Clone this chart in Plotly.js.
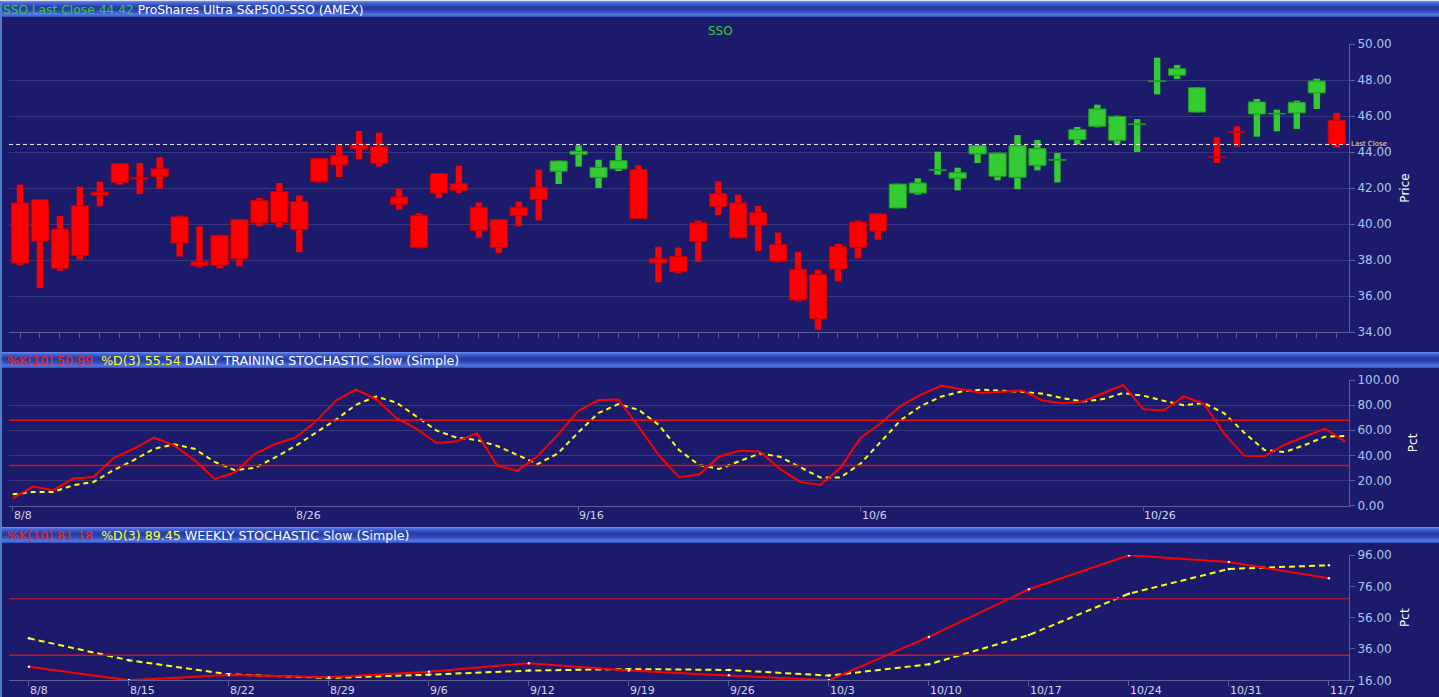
<!DOCTYPE html>
<html>
<head>
<meta charset="utf-8">
<script src="https://cdn.plot.ly/plotly-3.0.1.min.js"></script>
<style>
html,body{margin:0;padding:0;background:#1b1a6b;overflow:hidden}
#chart{width:1439px;height:697px}
</style>
</head>
<body>
<div id="chart"></div>
<script>
// ---------------- DATA ----------------
const symbol = 'SSO';
const lastClose = 44.42;

// Daily OHLC bars (67 trading sessions)
const open = [41.17, 41.35, 39.72, 41.02, 41.78, 43.35, 42.57, 43.06, 40.39, 37.91,
  39.37, 40.24, 41.31, 41.81, 41.24, 43.63, 43.80, 44.41, 44.30, 41.50,
  40.48, 42.80, 42.24, 40.93, 40.24, 40.93, 42.04, 42.93, 43.87, 42.59,
  43.06, 43.02, 38.07, 38.19, 40.06, 41.69, 41.17, 40.63, 38.85, 37.48,
  37.20, 38.74, 40.11, 40.56, 40.89, 41.72, 42.98, 42.54, 43.89, 42.65,
  42.59, 43.26, 43.54, 44.69, 45.43, 44.65, 45.52, 47.91, 48.26, 46.22,
  43.74, 45.13, 46.11, 46.11, 46.17, 47.28, 45.76];
const high = [42.19, 41.35, 40.44, 42.07, 42.35, 43.39, 43.39, 43.72, 40.46, 39.87,
  39.40, 40.26, 41.44, 42.28, 41.59, 43.67, 44.41, 45.17, 45.07, 41.96,
  40.59, 42.83, 43.24, 41.20, 40.26, 41.24, 43.02, 43.52, 44.37, 43.57,
  44.37, 43.26, 38.74, 38.69, 40.19, 42.37, 41.63, 41.00, 39.52, 38.46,
  37.46, 38.89, 40.19, 40.61, 42.24, 42.54, 44.02, 43.13, 44.37, 43.96,
  44.94, 44.67, 43.94, 45.39, 46.63, 46.02, 45.83, 49.24, 48.83, 47.61,
  44.81, 45.43, 46.94, 46.35, 46.85, 48.07, 46.17];
const low = [37.70, 36.43, 37.41, 38.02, 40.98, 42.19, 41.67, 41.96, 38.19, 37.59,
  37.54, 37.65, 39.87, 39.81, 38.43, 42.31, 42.61, 43.59, 43.20, 40.80,
  38.65, 41.44, 41.72, 39.24, 38.39, 39.87, 40.20, 42.22, 43.19, 42.00,
  42.94, 40.29, 36.76, 37.26, 37.89, 40.50, 39.20, 38.50, 37.87, 35.70,
  34.13, 36.81, 38.09, 39.13, 40.87, 41.63, 42.74, 41.87, 43.39, 42.43,
  41.93, 42.98, 42.31, 44.41, 45.37, 44.41, 44.00, 47.20, 48.06, 46.20,
  43.39, 44.30, 44.85, 45.15, 45.28, 46.39, 44.26];
const close = [37.83, 39.04, 37.54, 38.26, 41.59, 42.31, 42.50, 42.65, 38.94, 37.70,
  37.70, 38.06, 40.06, 40.09, 39.69, 42.35, 43.28, 44.17, 43.37, 41.09,
  38.69, 41.72, 41.87, 39.65, 38.69, 40.46, 41.35, 43.50, 44.04, 43.15,
  43.52, 40.31, 37.83, 37.35, 39.02, 40.98, 39.24, 39.93, 37.93, 35.78,
  34.74, 37.50, 38.70, 39.61, 42.22, 42.28, 43.02, 42.85, 44.35, 43.94,
  44.35, 44.19, 43.58, 45.24, 46.39, 45.98, 45.56, 47.95, 48.63, 47.57,
  43.70, 45.09, 46.78, 46.15, 46.76, 47.94, 44.42];
// trend signal of each session (drives candle colour)
const signal = [
  'down','down','down','down','down','down','down','down','down','down',
  'down','down','down','down','down','down','down','down','down','down',
  'down','down','down','down','down','down','down','up','up','up',
  'up','down','down','down','down','down','down','down','down','down',
  'down','down','down','down','up','up','up','up','up','up',
  'up','up','up','up','up','up','up','up','up','up',
  'down','down','up','up','up','up','down'];

// Daily stochastic slow %K(10) / %D(3)
const dailyK = [5.9, 15.2, 12.3, 21.6, 22.9, 37.9, 45.3, 54.1, 48.0, 36.3,
  21.3, 26.4, 41.3, 49.1, 54.1, 66.9, 83.5, 92.3, 84.8, 69.6,
  61.1, 49.9, 51.2, 57.6, 31.7, 27.7, 39.5, 56.3, 75.2, 84.0,
  84.5, 62.9, 40.3, 22.7, 24.8, 39.2, 43.7, 43.2, 29.3, 18.9,
  16.5, 30.1, 54.1, 65.6, 79.7, 88.3, 95.5, 92.3, 89.6, 90.7,
  91.7, 83.7, 81.6, 82.9, 89.6, 96.0, 76.8, 75.7, 86.9, 81.1,
  57.6, 39.7, 39.5, 48.5, 54.9, 61.3, 50.99];
const dailyD = [9.1, 10.9, 10.9, 16.3, 18.9, 28.3, 36.3, 45.3, 48.8, 45.3,
  34.9, 28.3, 30.1, 38.4, 47.5, 58.1, 68.3, 80.3, 86.9, 82.1,
  70.9, 59.7, 54.1, 52.3, 47.5, 40.3, 33.1, 41.6, 58.1, 73.6,
  80.8, 76.3, 64.3, 44.3, 32.3, 29.3, 35.7, 41.6, 38.9, 30.9,
  22.4, 22.4, 33.6, 50.9, 68.3, 79.5, 86.9, 90.9, 92.3, 91.5,
  90.7, 89.1, 85.6, 82.9, 84.8, 89.6, 87.5, 83.5, 80.0, 81.6,
  73.6, 58.1, 44.3, 42.7, 48.3, 54.9, 55.54];
const dailyTickBars = [0, 14, 28, 42, 56];
const dailyTickLabels = ['8/8', '8/26', '9/16', '10/6', '10/26'];

// Weekly stochastic slow %K(10) / %D(3)
const weekLabels = ['8/8','8/15','8/22','8/29','9/6','9/12','9/19','9/26','10/3','10/10','10/17','10/24','10/31','11/7'];
const weeklyK = [24.7, 16.0, 19.4, 17.9, 21.5, 26.9, 22.2, 19.2, 16.0, 43.7, 74.1, 95.8, 91.5, 81.18];
const weeklyD = [42.8, 28.8, 19.8, 17.5, 19.6, 22.2, 23.2, 22.6, 19.0, 26.2, 44.9, 71.3, 87.1, 89.45];

const overbought = 68;
const oversold = 32;

// ---------------- BUILD ----------------
const W = 1439, H = 697;
const px = v => v / W;
const py = v => 1 - v / H;
const fnt = 'DejaVu Sans, Verdana, sans-serif';
const BG = '#1b1a6b';
const GRID = '#38387f';
const AXIS = '#5e5e96';
const TICKCOL = '#a6c8ee';

const barIdx = open.map((_, i) => i);
const weekIdx = weekLabels.map((_, i) => i);

const COLORS = {
  down: {fill: '#ff0000', edge: '#c80000'},
  up:   {fill: '#33cc33', edge: '#1f9a1f'}
};

function pick(arr, s) { return arr.filter((_, i) => signal[i] === s); }

const traces = [];
['down', 'up'].forEach(s => {
  const xs = pick(barIdx, s);
  const hs = pick(high, s), ls = pick(low, s);
  traces.push({
    type: 'bar', x: xs, base: ls, y: hs.map((h, k) => h - ls[k]),
    width: 0.32, xaxis: 'x', yaxis: 'y',
    marker: {color: COLORS[s].fill, line: {width: 0}},
    hoverinfo: 'skip', showlegend: false
  });
});
['down', 'up'].forEach(s => {
  const xs = pick(barIdx, s);
  const os = pick(open, s), cs = pick(close, s);
  const bot = os.map((o, k) => Math.min(o, cs[k]));
  const top = os.map((o, k) => Math.max(o, cs[k]));
  traces.push({
    type: 'bar', x: xs, base: bot, y: top.map((t, k) => t - bot[k]),
    width: 0.86, xaxis: 'x', yaxis: 'y',
    marker: {color: COLORS[s].fill, line: {width: 1, color: COLORS[s].edge}},
    hoverinfo: 'skip', showlegend: false
  });
});

// daily stochastic
traces.push({type: 'scatter', mode: 'lines', x: barIdx, y: dailyD, xaxis: 'x2', yaxis: 'y2',
  line: {color: '#ffff00', width: 2, dash: '5px,4px'}, hoverinfo: 'skip', showlegend: false});
traces.push({type: 'scatter', mode: 'lines', x: barIdx, y: dailyK, xaxis: 'x2', yaxis: 'y2',
  line: {color: '#ff0000', width: 2}, hoverinfo: 'skip', showlegend: false});

// weekly stochastic
traces.push({type: 'scatter', mode: 'lines+markers', x: weekIdx, y: weeklyD, xaxis: 'x3', yaxis: 'y3',
  line: {color: '#ffff00', width: 2, dash: '6px,4px'},
  marker: {color: '#ffffff', size: 2.5}, hoverinfo: 'skip', showlegend: false});
traces.push({type: 'scatter', mode: 'lines+markers', x: weekIdx, y: weeklyK, xaxis: 'x3', yaxis: 'y3',
  line: {color: '#ff0000', width: 2},
  marker: {color: '#ffffff', size: 2.5}, hoverinfo: 'skip', showlegend: false});

// panel geometry (pixels)
const XL = 9, XR = 1349;
const dom = [px(XL), px(XR)];
const mainStep = 19.95, mainX0 = 20;
const dayStep = 20.19, dayX0 = 12.7;
const wkStep = 100.0, wkX0 = 28.9;

const yTickCommon = {
  side: 'right', tickformat: '.2f', ticks: 'outside', ticklen: 5, tickcolor: AXIS,
  showline: true, linecolor: AXIS, linewidth: 1, zeroline: false, fixedrange: true,
  tickfont: {family: fnt, size: 12, color: TICKCOL}
};
const xCommon = {
  showgrid: false, zeroline: false, showline: true, linecolor: AXIS, linewidth: 1,
  ticks: 'outside', tickcolor: AXIS, showticklabels: false, fixedrange: true, domain: dom
};

const layout = {
  width: W, height: H,
  margin: {l: 0, r: 0, t: 0, b: 0, pad: 0},
  paper_bgcolor: BG, plot_bgcolor: BG,
  barmode: 'overlay', showlegend: false,
  xaxis: Object.assign({}, xCommon, {
    anchor: 'y', range: [(XL - mainX0) / mainStep, (XR - mainX0) / mainStep],
    tickmode: 'array', tickvals: barIdx, ticklen: 5
  }),
  yaxis: Object.assign({}, yTickCommon, {
    anchor: 'x', domain: [py(332), py(44)], range: [34, 50], dtick: 2, tick0: 34,
    showgrid: true, gridcolor: GRID, gridwidth: 1,
    title: {text: 'Price', font: {family: fnt, size: 12, color: '#ffffff'}, standoff: 9}
  }),
  xaxis2: Object.assign({}, xCommon, {
    anchor: 'y2', range: [(XL - dayX0) / dayStep, (XR - dayX0) / dayStep],
    tickmode: 'array', tickvals: dailyTickBars, ticklen: 4
  }),
  yaxis2: Object.assign({}, yTickCommon, {
    anchor: 'x2', domain: [py(505.7), py(380)], range: [0, 100], dtick: 20, tick0: 0,
    showgrid: true, gridcolor: GRID, gridwidth: 1,
    title: {text: 'Pct', font: {family: fnt, size: 12, color: '#ffffff'}, standoff: 10}
  }),
  xaxis3: Object.assign({}, xCommon, {
    anchor: 'y3', range: [(XL - wkX0) / wkStep, (XR - wkX0) / wkStep],
    tickmode: 'array', tickvals: weekIdx, ticklen: 5
  }),
  yaxis3: Object.assign({}, yTickCommon, {
    anchor: 'x3', domain: [py(680.3), py(555)], range: [16, 96],
    tickmode: 'array', tickvals: [16, 36, 56, 76, 96],
    showgrid: false,
    title: {text: 'Pct', font: {family: fnt, size: 12, color: '#ffffff'}, standoff: 9}
  }),
  shapes: [],
  annotations: []
};

// header bars (tube gradient made of 1px stripes)
const stripes = ['#6888ee','#5070e0','#4262d2','#3858c6','#304cb8','#2b44ad','#283ea6','#283ca2',
                 '#2a40a8','#2e46b2','#3350c0','#3b5ccc','#4668d8','#5074e2','#4668d6','#3858c2'];
[1, 352, 527].forEach(top => {
  stripes.forEach((c, k) => {
    layout.shapes.push({type: 'rect', xref: 'paper', yref: 'paper', layer: 'below',
      x0: 0, x1: 1, y0: py(top + k + 1), y1: py(top + k), fillcolor: c, line: {width: 0}});
  });
});
// top light edge and left border
layout.shapes.push({type: 'rect', xref: 'paper', yref: 'paper', x0: 0, x1: 1, y0: py(1), y1: 1,
  fillcolor: '#dfe4f4', line: {width: 0}});
layout.shapes.push({type: 'rect', xref: 'paper', yref: 'paper', x0: 0, x1: px(2), y0: 0, y1: py(1),
  fillcolor: '#4f7fc4', line: {width: 0}});

// last close dashed line
layout.shapes.push({type: 'line', xref: 'x domain', yref: 'y', x0: 0, x1: 1, y0: lastClose, y1: lastClose,
  line: {color: '#f2f2f2', width: 1, dash: '4px,3px'}});

// overbought / oversold lines
[[ 'x2', 'y2', '#e01010', '#e01010'], ['x3', 'y3', '#a3163e', '#d81020']].forEach(([xa, ya, cTop, cBot]) => {
  layout.shapes.push({type: 'line', xref: xa + ' domain', yref: ya, x0: 0, x1: 1, y0: overbought, y1: overbought,
    line: {color: cTop, width: 1.5}});
  layout.shapes.push({type: 'line', xref: xa + ' domain', yref: ya, x0: 0, x1: 1, y0: oversold, y1: oversold,
    line: {color: cBot, width: 1.5}});
});

// headers
layout.annotations.push({xref: 'paper', yref: 'paper', x: px(2), y: py(10), xanchor: 'left', yanchor: 'middle',
  showarrow: false, borderpad: 0, font: {family: fnt, size: 12.3, color: '#ffffff'},
  text: '<span style="color:#33cc33">' + symbol + '.Last Close ' + lastClose.toFixed(2) + '</span> ProShares Ultra S&amp;P500-SSO (AMEX)'});
const stoHdrFont = {family: fnt, size: 12.6, color: '#ffffff'};
layout.annotations.push({xref: 'paper', yref: 'paper', x: px(6), y: py(360.5), xanchor: 'left', yanchor: 'middle',
  showarrow: false, borderpad: 0, font: stoHdrFont,
  text: '<span style="color:#ff2020">%K(10) ' + dailyK[dailyK.length - 1].toFixed(2) + '</span>&nbsp; <span style="color:#ffff33">%D(3) ' +
    dailyD[dailyD.length - 1].toFixed(2) + '</span> DAILY TRAINING STOCHASTIC Slow (Simple)'});
layout.annotations.push({xref: 'paper', yref: 'paper', x: px(6), y: py(535.5), xanchor: 'left', yanchor: 'middle',
  showarrow: false, borderpad: 0, font: stoHdrFont,
  text: '<span style="color:#ff2020">%K(10) ' + weeklyK[weeklyK.length - 1].toFixed(2) + '</span>&nbsp; <span style="color:#ffff33">%D(3) ' +
    weeklyD[weeklyD.length - 1].toFixed(2) + '</span> WEEKLY STOCHASTIC Slow (Simple)'});
// chart title
layout.annotations.push({xref: 'paper', yref: 'paper', x: px(720), y: py(31), xanchor: 'center', yanchor: 'middle',
  showarrow: false, font: {family: fnt, size: 12, color: '#3ccc3c'}, text: symbol});
// last close tag
layout.annotations.push({xref: 'paper', yref: 'y', x: px(1350), y: lastClose, xanchor: 'left', yanchor: 'middle',
  showarrow: false, borderpad: 0, font: {family: fnt, size: 7, color: '#f3e4a6'}, text: 'Last Close'});
// x tick labels (left aligned on their ticks)
dailyTickBars.forEach((b, k) => {
  layout.annotations.push({xref: 'x2', yref: 'paper', x: b, y: py(515.5), xanchor: 'left', yanchor: 'middle',
    showarrow: false, borderpad: 0, font: {family: fnt, size: 11, color: '#d4d8e8'}, text: dailyTickLabels[k]});
});
weekIdx.forEach((w, k) => {
  layout.annotations.push({xref: 'x3', yref: 'paper', x: w, y: py(690.5), xanchor: 'left', yanchor: 'middle',
    showarrow: false, borderpad: 0, font: {family: fnt, size: 11, color: '#d4d8e8'}, text: weekLabels[k]});
});

Plotly.newPlot('chart', traces, layout, {staticPlot: true, displayModeBar: false});
</script>
</body>
</html>
